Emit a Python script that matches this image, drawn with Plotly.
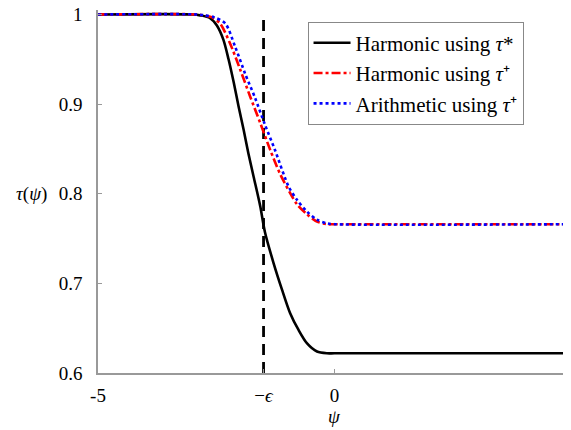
import plotly.graph_objects as go

# ---- data ----
eps = 1.5  # position of the dashed line at psi = -eps

psi_black = [-5, -3.0, -2.84, -2.63, -2.49, -2.35, -2.24, -2.13, -2.03, -1.92, -1.82, -1.71,
             -1.57, -1.47, -1.29, -1.11, -0.94, -0.76, -0.58, -0.37, -0.16, 0.0, 5]
tau_black = [1, 1, 0.999, 0.996, 0.988, 0.972, 0.950, 0.924, 0.898, 0.871, 0.845, 0.819,
             0.786, 0.757, 0.723, 0.693, 0.667, 0.648, 0.633, 0.624, 0.622, 0.622, 0.622]

psi_red = [-5, -2.9, -2.77, -2.6, -2.42, -2.21, -1.99, -1.78, -1.57, -1.36, -1.15, -0.94,
           -0.79, -0.58, -0.37, -0.16, 0.0, 5]
tau_red = [1, 1, 0.999, 0.997, 0.990, 0.968, 0.938, 0.908, 0.879, 0.849, 0.822, 0.801,
           0.788, 0.777, 0.769, 0.766, 0.766, 0.766]

psi_blue = [-5, -2.9, -2.75, -2.55, -2.31, -2.10, -1.89, -1.68, -1.47, -1.26, -0.97, -0.79,
            -0.58, -0.37, -0.16, 0.0, 5]
tau_blue = [1, 1, 0.999, 0.997, 0.990, 0.964, 0.934, 0.907, 0.877, 0.849, 0.808, 0.793,
            0.780, 0.771, 0.767, 0.766, 0.766]

names = ["Harmonic using <i>τ</i>*",
         "Harmonic using <i>τ</i>⁺",
         "Arithmetic using <i>τ</i>⁺"]

x_tickvals = [-5, -eps, 0, 5]
x_ticktext = ["-5", "−<i>ϵ</i>", "0", "5"]
y_tickvals = [0.6, 0.7, 0.8, 0.9, 1.0]
y_ticktext = ["0.6", "0.7", "0.8", "0.9", "1"]

FONT = "Liberation Serif"

fig = go.Figure()
fig.add_trace(go.Scatter(x=[-eps, -eps], y=[0.6, 1.0], mode="lines", showlegend=False,
                         line=dict(color="black", width=2.8, dash="11px,7px"), hoverinfo="skip"))
fig.add_trace(go.Scatter(x=psi_black, y=tau_black, mode="lines", name=names[0],
                         line=dict(color="black", width=2.6, shape="spline", smoothing=0.8)))
fig.add_trace(go.Scatter(x=psi_red, y=tau_red, mode="lines", name=names[1],
                         line=dict(color="red", width=2.6, dash="dashdot", shape="spline", smoothing=0.8)))
fig.add_trace(go.Scatter(x=psi_blue, y=tau_blue, mode="lines", name=names[2],
                         line=dict(color="blue", width=2.6, dash="dot", shape="spline", smoothing=0.8)))

# page body adds an 8px offset, so the figure is 563x422 and margins are shifted by 8px
fig.update_layout(
    width=563, height=422,
    margin=dict(l=90, r=0, t=2, b=57, autoexpand=False),
    paper_bgcolor="white", plot_bgcolor="white",
    font=dict(family=FONT, size=18, color="black"),
    showlegend=True,
    legend=dict(x=0.443, y=0.968, xanchor="left", yanchor="top",
                bgcolor="white", bordercolor="#888888", borderwidth=1,
                font=dict(family=FONT, size=21, color="black"),
                tracegroupgap=0, itemwidth=37),
    xaxis=dict(range=[-5, 5], tickvals=x_tickvals, ticktext=x_ticktext, automargin=False,
               showgrid=False, zeroline=False, showline=True, linecolor="#999999", linewidth=1.5,
               ticks="inside", ticklen=4, tickcolor="#999999", ticklabelstandoff=4,
               ticklabeloverflow="allow", tickfont=dict(family=FONT, size=19)),
    yaxis=dict(range=[0.6, 1.005], tickvals=y_tickvals, ticktext=y_ticktext, automargin=False,
               showgrid=False, zeroline=False, showline=True, linecolor="#999999", linewidth=1.5,
               ticks="inside", ticklen=4, tickcolor="#999999", ticklabelstandoff=10,
               ticklabeloverflow="allow", tickfont=dict(family=FONT, size=19)),
    annotations=[
        dict(text="<i>τ</i>(<i>ψ</i>)", xref="paper", yref="y", x=-0.103, y=0.8,
             xanchor="right", yanchor="middle", showarrow=False, font=dict(family=FONT, size=19)),
        dict(text="<i>ψ</i>", xref="x", yref="paper", x=0, y=-0.12,
             xanchor="center", yanchor="middle", showarrow=False, font=dict(family=FONT, size=19)),
    ],
)

fig.write_html("out.html")
